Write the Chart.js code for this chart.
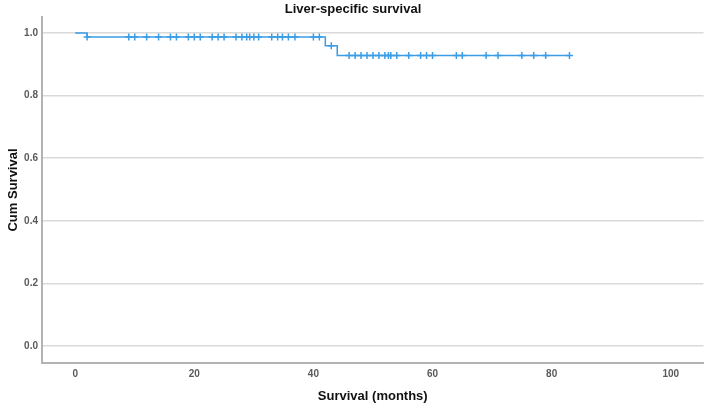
<!DOCTYPE html>
<html lang="en">
<head>
    <meta charset="UTF-8">
    <title>Liver-specific survival</title>
    <script src="https://cdn.jsdelivr.net/npm/chart.js"></script>
    <style>
        body { margin: 0; background: white; }
        #wrap { width: 709px; height: 408px; }
    </style>
</head>
<body>
    <div id="wrap"><canvas id="kmChart"></canvas></div>

    <script>
        // Kaplan-Meier steps (months, cumulative survival)
        const stepTimes = [0, 2, 42, 44, 83];
        const stepSurvival = [1.0, 0.987, 0.959, 0.928, 0.928];

        // censored cases, grouped by the survival level they sit on
        const censorTimesA = [2, 9, 10, 12, 14, 16, 17, 19, 20, 21, 23, 24, 25, 27, 28, 28.8, 29.3, 30, 30.8, 33, 34, 34.8, 35.8, 36.9, 40, 41];
        const censorTimesB = [43];
        const censorTimesC = [46, 47, 48, 49, 50, 51, 52, 52.6, 53, 54, 56, 58, 59, 60, 64, 65, 69, 71, 75, 77, 79, 83];
        const censorLevels = [0.987, 0.959, 0.928];

        const yTicks = [0, 0.2, 0.4, 0.6, 0.8, 1.0];
        const xTicks = [0, 20, 40, 60, 80, 100];

        const lineColor = '#3a9de6';

        const stepData = stepTimes.map((t, i) => ({ x: t, y: stepSurvival[i] }));
        const censorData = []
            .concat(censorTimesA.map(t => ({ x: t, y: censorLevels[0] })))
            .concat(censorTimesB.map(t => ({ x: t, y: censorLevels[1] })))
            .concat(censorTimesC.map(t => ({ x: t, y: censorLevels[2] })));

        const tickFont = { family: 'Liberation Sans, Arial, sans-serif', size: 10, weight: 'bold' };
        const titleFont = { family: 'Liberation Sans, Arial, sans-serif', size: 13, weight: 'bold' };

        new Chart(document.getElementById('kmChart').getContext('2d'), {
            type: 'scatter',
            data: {
                datasets: [
                    {
                        label: 'Survival',
                        data: stepData,
                        showLine: true,
                        stepped: true,
                        borderColor: lineColor,
                        borderWidth: 1.5,
                        pointRadius: 0,
                        fill: false
                    },
                    {
                        label: 'Censored',
                        data: censorData,
                        showLine: false,
                        pointStyle: 'cross',
                        pointRadius: 3.5,
                        borderColor: lineColor,
                        backgroundColor: lineColor,
                        pointBorderWidth: 1.5
                    }
                ]
            },
            options: {
                responsive: true,
                maintainAspectRatio: false,
                animation: false,
                layout: { padding: { left: 0, right: 3, top: 0, bottom: 0 } },
                plugins: {
                    legend: { display: false },
                    tooltip: { enabled: false },
                    title: {
                        display: true,
                        text: 'Liver-specific survival',
                        color: '#111',
                        font: { ...titleFont, lineHeight: 1.0 },
                        padding: { top: 3, bottom: 1 }
                    }
                },
                scales: {
                    x: {
                        type: 'linear',
                        min: -5.57,
                        max: 105.5,
                        afterBuildTicks: scale => { scale.ticks = xTicks.map(v => ({ value: v })); },
                        afterFit: scale => { scale.height = 45; },
                        grid: { display: false, drawTicks: false },
                        border: { display: true, color: '#b3b3b3', width: 2 },
                        ticks: { color: '#5a5a5a', font: tickFont, padding: 5 },
                        title: {
                            display: true,
                            text: 'Survival (months)',
                            color: '#111',
                            font: titleFont,
                            padding: { top: 4, bottom: 4 }
                        }
                    },
                    y: {
                        min: -0.054,
                        max: 1.051,
                        afterBuildTicks: scale => { scale.ticks = yTicks.map(v => ({ value: v })); },
                        afterFit: scale => { scale.width = 42; },
                        grid: { color: '#d9d9d9', lineWidth: 1.5, drawTicks: false },
                        border: { display: true, color: '#b3b3b3', width: 2 },
                        ticks: {
                            color: '#5a5a5a',
                            font: tickFont,
                            padding: 4,
                            callback: v => v.toFixed(1)
                        },
                        title: {
                            display: true,
                            text: 'Cum Survival',
                            color: '#111',
                            font: titleFont,
                            padding: { top: 6, bottom: 0 }
                        }
                    }
                }
            }
        });
    </script>
</body>
</html>
